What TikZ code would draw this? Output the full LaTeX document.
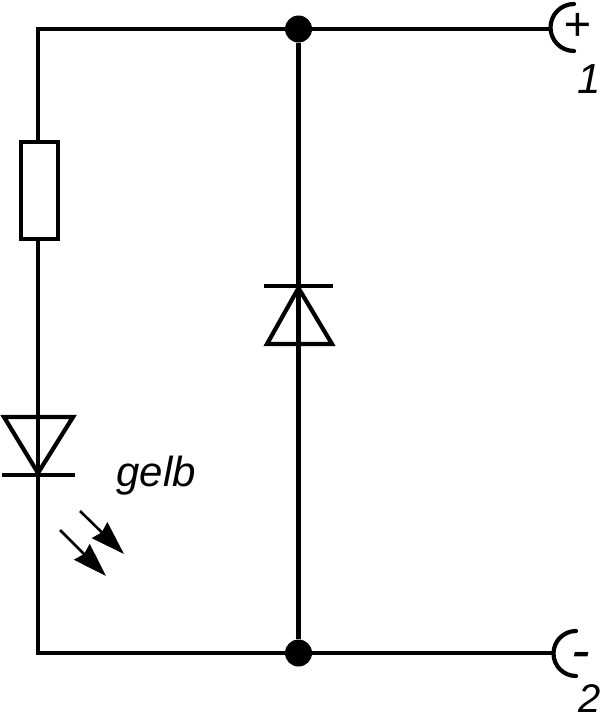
\documentclass[tikz,border=0pt]{standalone}
\usepackage{fontspec}
\setmainfont{Liberation Sans}
\usetikzlibrary{arrows.meta}
\tikzset{
  wire/.style={line width=4.2pt,black,line cap=butt},
  sym/.style={line width=4.2pt,black,line join=miter},
  termarc/.style={line width=4.2pt,black,line cap=round},
  dot/.style={circle,fill=black,minimum size=27pt,inner sep=0pt,draw=none},
  lbl/.style={inner sep=0pt,font=\fontsize{42}{42}\selectfont\itshape},
  light/.style={line width=2.6pt,black,-{Stealth[length=34pt,width=22pt,inset=3pt]}},
  resbox/.style={draw,line width=4.2pt,black,fill=white,minimum width=37pt,minimum height=97pt,inner sep=0pt}
}
\begin{document}
\begin{tikzpicture}[x=1pt,y=-1pt]
\useasboundingbox (0,0) rectangle (607,720);
% junctions and end points
\node[dot] (jt) at (298.5,29) {};
\node[dot] (jb) at (298.5,653) {};
\coordinate (tl) at (38,29);
\coordinate (bl) at (38,653);
\coordinate (t1) at (551,29);
\coordinate (t2) at (554,653);
\node[resbox] (r) at (39.5,190.5) {};
% wires
\draw[wire,line cap=round] (r.north -| tl) -- (tl) -- (jt);
\draw[wire] (jt) -- (t1);
\draw[wire] (r.south -| tl) -- (38,473);
\draw[wire,line cap=round] (38,473) -- (bl) -- (jb);
\draw[wire] (jb) -- (t2);
\draw[wire] (jt) -- (jb);
% centre diode
\draw[sym] (264,286) -- (333,286);
\draw[sym] (298.5,288) -- (332,344) -- (267,344) -- cycle;
% LED
\draw[sym] (38,473) -- (4,417) -- (73,417) -- cycle;
\draw[sym] (2,475) -- (75,475);
% light arrows
\coordinate (a1s) at (80,511);
\coordinate (a1e) at (124,554);
\coordinate (a2s) at (60,530);
\coordinate (a2e) at (106,576);
\draw[light] (a1s) -- (a1e);
\draw[light] (a2s) -- (a2e);
% terminals
\draw[termarc] (574,4) arc[start angle=-90,end angle=-270,radius=23.5];
\draw[termarc] (576,631) arc[start angle=-90,end angle=-270,radius=22.5];
% labels
\node[lbl] (plus) at (577,27) {\fontsize{47}{47}\selectfont +};
\node[lbl] (minus) at (581,661) {\fontsize{56}{56}\selectfont -};
\node[lbl] (one) at (589,79) {1};
\node[lbl] (two) at (590,699) {\fontsize{40}{40}\selectfont 2};
\node[lbl] (gelb) at (156,476) {gelb};
\end{tikzpicture}
\end{document}
